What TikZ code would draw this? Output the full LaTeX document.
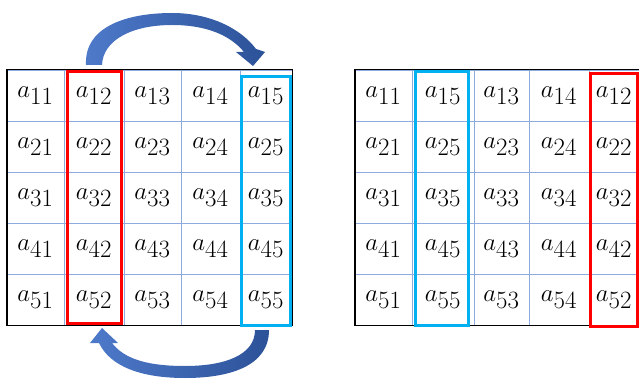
\documentclass[tikz,border=0pt]{standalone}

\definecolor{gridblue}{RGB}{143,170,220}
\definecolor{swapred}{RGB}{255,0,0}
\definecolor{swapblue}{RGB}{0,176,240}
\definecolor{arrowlight}{RGB}{78,122,202}
\definecolor{arrowdark}{RGB}{44,82,152}

\begin{document}
\begin{tikzpicture}[x=1pt,y=-1pt,
    cell/.style={draw=gridblue,line width=0.6pt,minimum height=51pt,
      inner sep=0pt,font=\fontsize{33}{38}\selectfont},
    frame/.style={draw=black,line width=1.6pt},
    redbox/.style={draw=swapred,line width=3.2pt},
    bluebox/.style={draw=swapblue,line width=3.2pt},
    swaparrow/.style={left color=arrowlight,right color=arrowdark,draw=none}]

  \useasboundingbox (0,0) rectangle (639,379);

  % left matrix, before the swap
  \foreach \r/\y in {1/95.5,2/146.5,3/197.5,4/248.5,5/299.5}
    \foreach \c/\x/\w in {1/35.5/57,2/94/60,3/152.5/57,4/210.5/59,5/266/52}
      \node[cell,minimum width=\w pt] (L\r\c) at (\x,\y) {$a_{\r\c}$};

  % right matrix, columns 2 and 5 exchanged
  \foreach \r/\y in {1/95.5,2/146.5,3/197.5,4/248.5,5/299.5}
    \foreach \c/\m/\x/\w in {1/1/383.5/57,2/5/443/62,3/3/501.5/55,4/4/559/60,5/2/614/50}
      \node[cell,minimum width=\w pt] (R\r\c) at (\x,\y) {$a_{\r\m}$};

  \draw[frame] (L11.north west) rectangle (L55.south east);
  \draw[frame] (R11.north west) rectangle (R55.south east);

  \draw[redbox] ([shift={(3.6,1.6)}]L12.north west) rectangle ([shift={(-2.6,-1.5)}]L52.south east);
  \draw[bluebox] ([shift={(1.6,6.6)}]L15.north west) rectangle ([shift={(-1.6,0.4)}]L55.south east);
  \draw[bluebox] ([shift={(3.6,1.6)}]R12.north west) rectangle ([shift={(-5.6,0.4)}]R52.south east);
  \draw[redbox] ([shift={(1.6,3.6)}]R15.north west) rectangle ([shift={(-1.6,1.4)}]R55.south east);

  % swap arrows
  \path[swaparrow] (86,65) .. controls (84,25) and (130,13) .. (172,13)
    .. controls (212,13) and (242,30) .. (256,49) -- (265,52) -- (253,66)
    -- (236,52) -- (244,52) .. controls (230,35) and (206,25) .. (172,25)
    .. controls (132,25) and (103,40) .. (102,65) -- cycle;
  \path[swaparrow] (269,330) .. controls (269,366) and (230,378) .. (185,378)
    .. controls (140,378) and (110,366) .. (99,343) -- (90,343) -- (102,328)
    -- (118,343) -- (112,343) .. controls (125,360) and (150,366) .. (185,366)
    .. controls (225,366) and (255,355) .. (255,330) -- cycle;

\end{tikzpicture}
\end{document}
